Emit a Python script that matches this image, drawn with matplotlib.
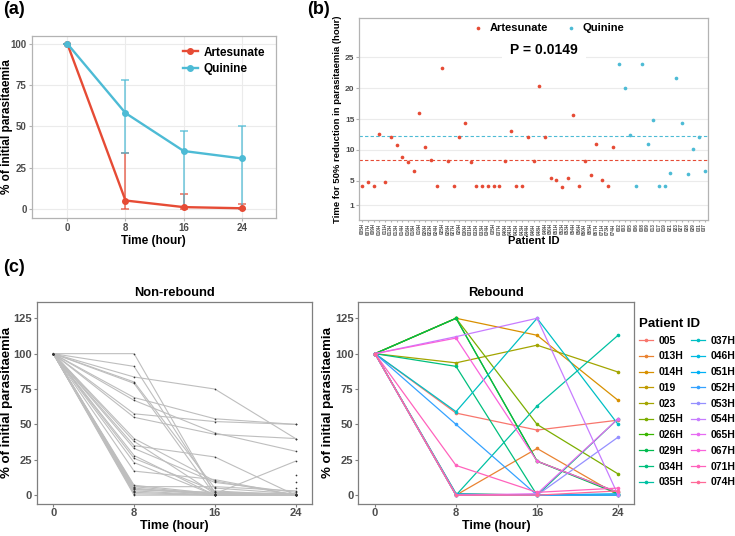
import numpy as np
import matplotlib
matplotlib.use('Agg')
import matplotlib.pyplot as plt
from matplotlib.lines import Line2D

plt.rcParams['font.family'] = ['Liberation Sans', 'DejaVu Sans']
plt.rcParams['font.weight'] = 'bold'
plt.rcParams['axes.labelweight'] = 'bold'
plt.rcParams['axes.titleweight'] = 'bold'

# ---- datos panel (a) ----
horas = [0, 8, 16, 24]
art_media = [100, 5, 1, 0.3]
art_inf = [100, 0, 0, 0]
art_sup = [100, 34, 9, 3]
qui_media = [100, 58, 35, 30.5]
qui_inf = [100, 34, 1, 0]
qui_sup = [100, 78, 47, 50]

# ---- datos panel (b) ----
art_ids = ['005H', '007H', '009H', '010H', '011H', '012H', '013H', '014H', '016H', '018H',
           '019H', '020H', '022H', '024H', '025H', '026H', '027H', '029H', '030H', '031H',
           '032H', '033H', '034H', '035H', '037H', '040H', '041H', '042H', '043H', '044H',
           '046H', '048H', '049H', '050H', '051H', '052H', '053H', '054H', '056H', '060H',
           '065H', '067H', '071H', '073H', '074H']
art_t50 = [4.2, 4.8, 4.1, 12.6, 4.8, 12.1, 10.7, 8.8, 8.0, 6.6,
           15.9, 10.5, 8.3, 4.1, 23.3, 8.1, 4.1, 12.1, 14.4, 8.0,
           4.2, 4.2, 4.2, 4.2, 4.2, 8.1, 13.1, 4.2, 4.2, 12.0,
           8.1, 20.4, 12.0, 5.5, 5.1, 4.0, 5.4, 15.6, 4.1, 8.2,
           5.9, 11.0, 5.1, 4.1, 10.5]
qui_ids = ['002', '003', '005', '006', '008', '009', '013', '017', '019', '021',
           '023', '027', '028', '029', '031', '037']
qui_t50 = [24.0, 20.0, 12.4, 4.2, 24.0, 10.9, 14.9, 4.1, 4.2, 6.2,
           21.6, 14.4, 6.0, 10.1, 12.0, 6.6]
art_media_t50 = 8.3
qui_media_t50 = 12.25

# ---- datos panel (c) ----
nr_valores = [
    [100, 100, 1, 0], [100, 91, 2, 0], [100, 83.5, 75, 40], [100, 80, 5, 1],
    [100, 79, 0, 0], [100, 69, 54, 50], [100, 67, 44, 31], [100, 57.5, 52, 50],
    [100, 55, 43, 40], [100, 40, 10, 0], [100, 38, 1, 1], [100, 35, 27, 0],
    [100, 33, 9, 2], [100, 28, 0, 0], [100, 26, 3, 0], [100, 23, 0, 1],
    [100, 17, 11, 0], [100, 7, 1, 24], [100, 6, 6, 3], [100, 5, 0, 0],
    [100, 4, 1, 0], [100, 3, 0, 0], [100, 2, 0, 0], [100, 1, 0, 0],
    [100, 0, 0, 0], [100, 5, np.nan, 14], [100, 3, np.nan, 9], [100, 2, np.nan, 5],
    [100, 6, 0.5, 0], [100, 4, 2, 1],
]
rb_ids = ['005', '013H', '014H', '019', '023', '025H', '026H', '029H', '034H', '035H',
          '037H', '046H', '051H', '052H', '053H', '054H', '065H', '067H', '071H', '074H']
rb_valores = [
    [100, 58, 46, 53], [100, 0, 33, 0], [100, 125, 113, 67], [100, 1, 0, 0],
    [100, 93.5, 106, 87], [100, 125, 50, 15], [100, 125, 24, 2], [100, 125, 24, 1],
    [100, 91, 0, 54], [100, 0, 63, 113], [100, 59, 125, 50], [100, 0, 0, 0],
    [100, 1, 0, 1], [100, 50, 0, 0], [100, 0, 0, 41], [100, 112, 125, 0],
    [100, 0, 1, 54], [100, 111, 24, 2], [100, 21, 2, 5], [100, 0, 0, 3],
]

ROJO = '#E64B35'
AZUL = '#4DBBD5'
GRIS_TXT = '#4D4D4D'


def hue_pal(n, l=65, c=100):
    # paleta por defecto de ggplot (hcl)
    cols = []
    for h in np.linspace(15, 375, n + 1)[:n]:
        u = c * np.cos(np.radians(h))
        v = c * np.sin(np.radians(h))
        xn, yn, zn = 95.047, 100.0, 108.883
        y = yn * ((l + 16) / 116) ** 3
        d = xn + 15 * yn + 3 * zn
        up = u / (13 * l) + 4 * xn / d
        vp = v / (13 * l) + 9 * yn / d
        x = y * 9 * up / (4 * vp)
        z = y * (12 - 3 * up - 20 * vp) / (4 * vp)
        x, y, z = x / 100, y / 100, z / 100
        r = 3.2404542 * x - 1.5371385 * y - 0.4985314 * z
        g = -0.9692660 * x + 1.8760108 * y + 0.0415560 * z
        b = 0.0556434 * x - 0.2040259 * y + 1.0572252 * z
        rgb = []
        for ch in (r, g, b):
            ch = 12.92 * ch if ch <= 0.0031308 else 1.055 * ch ** (1 / 2.4) - 0.055
            rgb.append(min(max(ch, 0), 1))
        cols.append(tuple(rgb))
    return cols


W, H = 735, 536
fig = plt.figure(figsize=(7.35, 5.36), dpi=100)


def caja(l, t, r, b):
    return [l / W, 1 - b / H, (r - l) / W, (b - t) / H]


def estilo(ax, borde='#B3B3B3', size=8):
    for s in ax.spines.values():
        s.set_color(borde)
        s.set_linewidth(0.9)
    ax.tick_params(colors=borde, labelcolor=GRIS_TXT, labelsize=size, length=2, width=0.8, pad=1.5)
    for t in ax.get_xticklabels() + ax.get_yticklabels():
        t.set_fontweight('bold')


# ---------- (a) ----------
ax_a = fig.add_axes(caja(31.7, 36, 276, 218))
for media, inf, sup, col, nombre in [(art_media, art_inf, art_sup, ROJO, 'Artesunate'),
                                     (qui_media, qui_inf, qui_sup, AZUL, 'Quinine')]:
    media = np.array(media)
    yerr = [media - np.array(inf), np.array(sup) - media]
    ax_a.errorbar(horas, media, yerr=yerr, fmt='none', ecolor=col, alpha=0.75,
                  capsize=2.6, elinewidth=1.2, capthick=1.2, zorder=2)
    ax_a.plot(horas, media, '-o', color=col, lw=1.7, ms=4, label=nombre, zorder=3)
ax_a.set_xlim(-4.9, 28.7)
ax_a.set_ylim(-5.6, 104.7)
ax_a.set_xticks(horas)
ax_a.set_yticks([0, 25, 50, 75, 100])
ax_a.grid(color='#EBEBEB', lw=0.8, zorder=0)
ax_a.set_axisbelow(True)
estilo(ax_a, size=7)
ax_a.set_xlabel('Time (hour)', fontsize=8.5, labelpad=1.5)
ax_a.set_ylabel('% of initial parasitaemia', fontsize=8.5)
ax_a.yaxis.set_label_coords(-0.078, 0.5)
ax_a.legend(loc='upper right', frameon=False, fontsize=8.5, handlelength=1.3,
            handletextpad=0.5, labelspacing=0.35, bbox_to_anchor=(1.0, 1.0))
fig.text(3 / W, 1 - 9 / H, '(a)', fontsize=13, fontweight='bold', va='center')

# ---------- (b) ----------
ax_b = fig.add_axes(caja(359.3, 18, 707.7, 220))
n_art = len(art_ids)
x_art = np.arange(1, n_art + 1)
x_qui = np.arange(n_art + 1, n_art + len(qui_ids) + 1)
ax_b.scatter(x_art, art_t50, s=7, color=ROJO, label='Artesunate', zorder=3, linewidths=0)
ax_b.scatter(x_qui, qui_t50, s=7, color=AZUL, label='Quinine', zorder=3, linewidths=0)
ax_b.axhline(art_media_t50, color=ROJO, ls=(0, (3, 2)), lw=0.8, zorder=2)
ax_b.axhline(qui_media_t50, color=AZUL, ls=(0, (3, 2)), lw=0.8, zorder=2)
ax_b.set_xlim(0.47, n_art + len(qui_ids) + 0.53)
ax_b.set_ylim(-1.4, 31.4)
ax_b.set_yticks([1, 5, 10, 15, 20, 25])
ax_b.set_xticks(np.concatenate([x_art, x_qui]))
ax_b.set_xticklabels(art_ids + qui_ids, rotation=90)
ax_b.yaxis.grid(True, color='#EBEBEB', lw=0.8)
ax_b.set_axisbelow(True)
estilo(ax_b, size=6)
ax_b.tick_params(axis='x', labelsize=3.3, length=1.5, pad=1)
ax_b.set_xlabel('Patient ID', fontsize=8, labelpad=1)
ax_b.set_ylabel('Time for 50% reduction in parasitaemia (hour)', fontsize=6.8, labelpad=2)
ax_b.legend(loc='center', ncol=2, frameon=False, fontsize=8, handletextpad=0.1,
            columnspacing=1.0, markerscale=1.0, bbox_to_anchor=(0.535, 0.95))
ax_b.text(0.53, 0.842, 'P = 0.0149', transform=ax_b.transAxes, ha='center', va='center',
          fontsize=10, fontweight='bold',
          bbox=dict(facecolor='white', edgecolor='none', pad=6), zorder=4)
fig.text(307 / W, 1 - 9 / H, '(b)', fontsize=13, fontweight='bold', va='center')

# ---------- (c) ----------
fig.text(3 / W, 1 - 267 / H, '(c)', fontsize=13, fontweight='bold', va='center')

ax_c1 = fig.add_axes(caja(36.7, 302, 311.7, 503.5))
for fila in nr_valores:
    ax_c1.plot(horas, fila, color='#BEBEBE', lw=0.8, zorder=2)
    ax_c1.scatter(horas, fila, s=1.5, color='#333333', zorder=3, linewidths=0)
ax_c1.set_title('Non-rebound', fontsize=9.3, fontweight='bold', pad=4)

ax_c2 = fig.add_axes(caja(358.3, 302, 634.3, 503.5))
colores = hue_pal(len(rb_ids))
manijas = []
for pid, fila, col in zip(rb_ids, rb_valores, colores):
    ax_c2.plot(horas, fila, color=col, lw=0.9, marker='o', ms=1.6, zorder=2)
    manijas.append(Line2D([0], [0], color=col, lw=0.9, marker='o', ms=1.6, label=pid))
ax_c2.set_title('Rebound', fontsize=9.3, fontweight='bold', pad=4)

for ax in (ax_c1, ax_c2):
    ax.set_xlim(-1.65, 25.6)
    ax.set_ylim(-5.9, 136.5)
    ax.set_xticks(horas)
    ax.set_yticks([0, 25, 50, 75, 100, 125])
    estilo(ax, borde='#7F7F7F', size=8)
    ax.set_xlabel('Time (hour)', fontsize=9, labelpad=1)
    ax.set_ylabel('% of initial parasitaemia', fontsize=9.5)
    ax.yaxis.set_label_coords(-0.087, 0.5)

fig.legend(handles=manijas, ncol=2, loc='upper left', bbox_to_anchor=(639 / W, 1 - 318 / H),
           frameon=False, fontsize=7.5, title='Patient ID',
           title_fontproperties={'weight': 'bold', 'size': 9.5},
           alignment='left', handlelength=1.35, handletextpad=0.5, columnspacing=0.75,
           labelspacing=0.55, borderaxespad=0, borderpad=0)

fig.savefig('out.png', dpi=100)
